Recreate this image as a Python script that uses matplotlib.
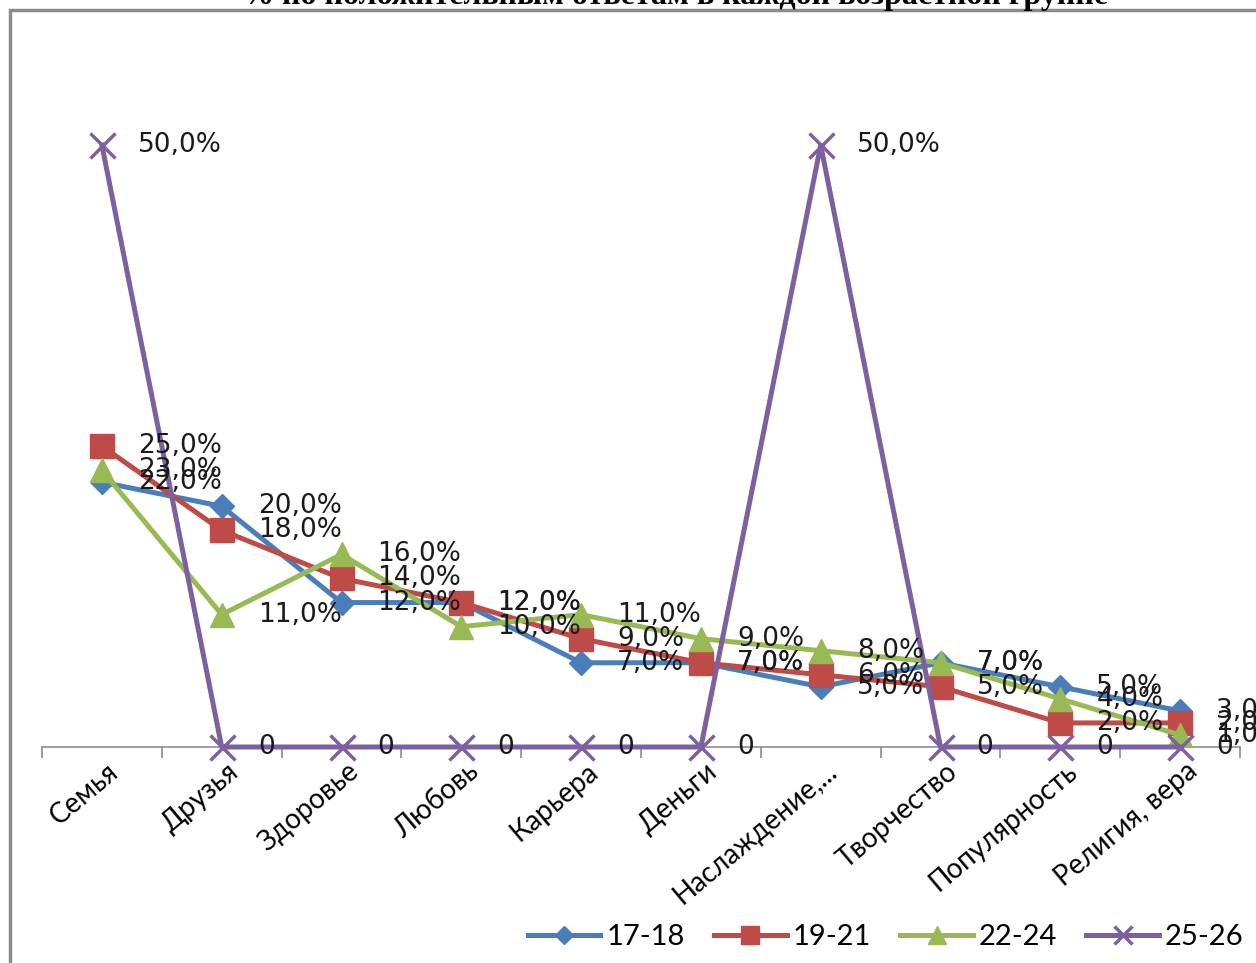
import numpy as np
import matplotlib.pyplot as plt
import matplotlib.transforms as mtransforms
from matplotlib.patches import Rectangle

categories = ['Семья', 'Друзья', 'Здоровье', 'Любовь', 'Карьера', 'Деньги',
              'Наслаждение,...', 'Творчество', 'Популярность', 'Религия, вера']
g17_18 = [22, 20, 12, 12, 7, 7, 5, 7, 5, 3]
g19_21 = [25, 18, 14, 12, 9, 7, 6, 5, 2, 2]
g22_24 = [23, 11, 16, 10, 11, 9, 8, 7, 4, 1]
g25_26 = [50, 0, 0, 0, 0, 0, 50, 0, 0, 0]
series_names = ['17-18', '19-21', '22-24', '25-26']

colors = ['#4A7EBB', '#BE4B48', '#98B954', '#7D60A0']
markers = ['D', 's', '^', 'x']
msizes = [12, 17, 17, 18]

fig = plt.figure(figsize=(12.56, 9.63), dpi=100)
W, H = 1256, 963
ax = fig.add_axes([42 / W, (H - 747) / H, (1240 - 42) / W, 662 / H])

x = np.arange(len(categories))
all_series = [g17_18, g19_21, g22_24, g25_26]
for i, (vals, name) in enumerate(zip(all_series, series_names)):
    if markers[i] == 'x':
        ax.plot(x, vals, color=colors[i], lw=3.6, marker='x', ms=msizes[i],
                mew=2.5, label=name, zorder=3 + i, clip_on=False)
    else:
        ax.plot(x, vals, color=colors[i], lw=3.6, marker=markers[i], ms=msizes[i],
                mec=colors[i], label=name, zorder=3 + i, clip_on=False)

# подписи данных
for i, vals in enumerate(all_series):
    for xi, v in zip(x, vals):
        txt = '0' if v == 0 else f'{v:.1f}%'.replace('.', ',')
        ax.annotate(txt, (xi, v), xytext=(26, 0), textcoords='offset points',
                    va='center', ha='left', fontsize=19, family='DejaVu Sans',
                    color='#1a1a1a', zorder=10, annotation_clip=False)

ax.set_xlim(-0.5, len(categories) - 0.5)
ax.set_ylim(0, 55)
for s in ['left', 'right', 'top']:
    ax.spines[s].set_visible(False)
ax.spines['bottom'].set_color('#8c8c8c')
ax.spines['bottom'].set_linewidth(1.2)
ax.set_yticks([])
ax.set_xticks(x)
ax.set_xticklabels(categories, rotation=40, ha='right', rotation_mode='anchor',
                   fontsize=20, family='Lato')
ax.tick_params(axis='x', which='major', length=0, pad=8)
shift = mtransforms.ScaledTranslation(5 / 100, 0, fig.dpi_scale_trans)
for lbl in ax.get_xticklabels():
    lbl.set_transform(lbl.get_transform() + shift)
ax.set_xticks(np.arange(-0.5, len(categories), 1), minor=True)
ax.tick_params(axis='x', which='minor', length=8, width=1.2, color='#8c8c8c')

leg = fig.legend(loc='center right', bbox_to_anchor=(1270 / W, 1 - 937 / H), ncol=4,
                 frameon=False, handlelength=2.5, columnspacing=1.0,
                 handletextpad=0.2, markerscale=0.75,
                 prop={'family': 'Lato', 'size': 21})

fig.patches.append(Rectangle((10 / W, -0.1), 1.2, 1 - 10 / H + 0.1,
                             transform=fig.transFigure, fill=False,
                             edgecolor='#8c8c8c', lw=2.5))

fig.text(675 / W, 1 - 4 / H, '% по положительным ответам в каждой возрастной группе',
         ha='center', va='baseline', fontsize=23, fontweight='bold',
         family='Liberation Serif')

fig.savefig('out.png', dpi=100)
